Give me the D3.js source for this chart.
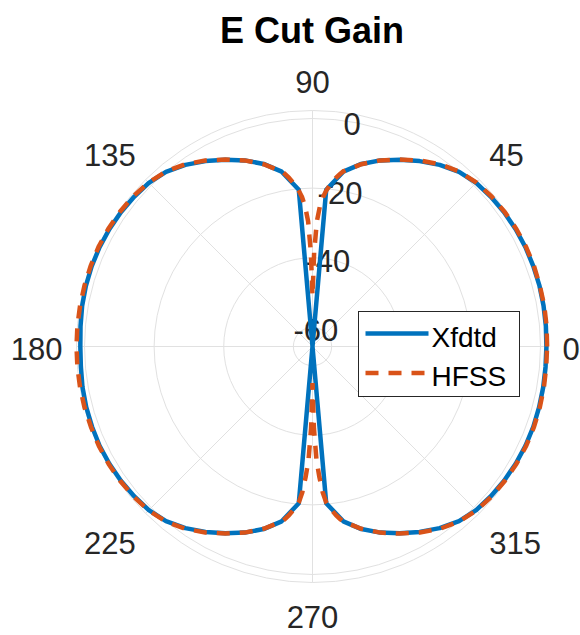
<!DOCTYPE html>
<html>
<head>
<meta charset="utf-8">
<script src="https://cdn.jsdelivr.net/npm/d3@7"></script>
<style>
  html, body { margin: 0; padding: 0; background: #fff; }
  svg { display: block; font-family: "Liberation Sans", Arial, sans-serif; }
</style>
</head>
<body>
<svg id="chart" width="580" height="635"></svg>
<script>
// E Cut Gain - polar plot of two simulated patterns (dB)

const chartTitle = 'E Cut Gain';
const thetaTicks = [0, 45, 90, 135, 180, 225, 270, 315];
const rTicks = [-60, -40, -20, 0];
const rLimits = [-65.5, 2.3];
const seriesNames = ['Xfdtd', 'HFSS'];

// Xfdtd, 5 degree steps
const xfdtdAngles = [0, 5, 10, 15, 20, 25, 30, 35, 40, 45, 50, 55, 60, 65, 70, 75, 80, 85,
  90, 95, 100, 105, 110, 115, 120, 125, 130, 135, 140, 145, 150, 155, 160, 165, 170, 175,
  180, 185, 190, 195, 200, 205, 210, 215, 220, 225, 230, 235, 240, 245, 250, 255, 260, 265,
  270, 275, 280, 285, 290, 295, 300, 305, 310, 315, 320, 325, 330, 335, 340, 345, 350, 355];
const xfdtdGain = [1.7, 1.8, 1.9, 2.0, 2.0, 2.0, 1.9, 1.7, 1.4, 1.0, 0.0, -1.8, -4.0, -6.3, -8.6, -11.2, -14.5, -20.3,
  -90, -20.3, -14.5, -11.2, -8.6, -6.3, -4.0, -1.8, 0.0, 1.0, 1.4, 1.7, 1.9, 2.0, 2.0, 1.9, 1.7, 1.4,
  1.2, 1.3, 1.6, 1.8, 1.9, 2.0, 1.9, 1.7, 1.4, 1.0, 0.0, -1.8, -4.0, -6.3, -8.6, -11.2, -14.5, -20.3,
  -90, -20.3, -14.5, -11.2, -8.6, -6.3, -4.0, -1.8, 0.0, 1.0, 1.4, 1.7, 1.9, 2.0, 2.0, 1.9, 1.8, 1.7];

// HFSS, finer steps around the nulls
const hfssAngles = [0, 5, 10, 15, 20, 25, 30, 35, 40, 45, 50, 55, 60, 65, 70, 75, 80,
  81, 82, 83, 84, 85, 86, 87, 88, 89, 90, 91, 92, 93, 94, 95, 96, 97, 98, 99,
  100, 105, 110, 115, 120, 125, 130, 135, 140, 145, 150, 155, 160, 165, 170, 175,
  180, 185, 190, 195, 200, 205, 210, 215, 220, 225, 230, 235, 240, 245, 250, 255, 260,
  261, 262, 263, 264, 265, 266, 267, 268, 269, 270, 271, 272, 273, 274, 275, 276, 277, 278, 279,
  280, 285, 290, 295, 300, 305, 310, 315, 320, 325, 330, 335, 340, 345, 350, 355];
const hfssGain = [1.9, 2.0, 2.1, 2.1, 2.2, 2.2, 2.1, 1.9, 1.6, 1.1, 0.1, -1.6, -3.8, -6.2, -8.6, -11.3, -14.4,
  -15.4, -16.5, -17.8, -19.1, -20.6, -22.5, -25.3, -29.5, -38.5, -51.0, -38.5, -29.5, -25.3, -22.5, -20.6, -19.1, -17.8, -16.5, -15.4,
  -14.4, -11.3, -8.6, -6.2, -3.8, -1.6, 0.1, 1.1, 1.7, 2.0, 2.2, 2.3, 2.3, 2.3, 2.3, 2.3,
  2.3, 2.3, 2.3, 2.3, 2.2, 2.2, 2.1, 1.9, 1.6, 1.1, 0.1, -1.6, -3.8, -6.2, -8.6, -11.3, -14.4,
  -15.4, -16.5, -17.8, -19.1, -20.6, -23.5, -28.0, -33.0, -42.0, -55.0, -42.0, -33.0, -28.0, -23.5, -20.6, -19.1, -17.8, -16.5, -15.4,
  -14.4, -11.3, -8.6, -6.2, -3.8, -1.6, 0.1, 1.1, 1.6, 1.9, 2.1, 2.2, 2.2, 2.1, 2.0, 1.9];

const colors = { xfdtd: '#0072BD', hfss: '#D95319' };

function renderPolar() {
  const svg = d3.select('#chart');
  const cx = 312.5;
  const cy = 346.5;
  const outerRadius = 236;
  const tickFont = 31;
  const capH = tickFont * 0.716;
  const gridColor = '#e1e1e1';
  const textColor = '#262626';

  svg.append('rect').attr('width', 580).attr('height', 635).attr('fill', '#fff');

  const rScale = d3.scaleLinear().domain(rLimits).range([0, outerRadius]).clamp(true);
  const toRad = d3.scaleLinear().domain([0, 360]).range([0, 2 * Math.PI]);
  const px = (deg, r) => cx + r * Math.cos(toRad(deg));
  const py = (deg, r) => cy - r * Math.sin(toRad(deg));

  const g = svg.append('g');

  // grid circles
  g.selectAll('.r-grid')
    .data(rTicks.concat([rLimits[1]]))
    .enter()
    .append('circle')
    .attr('cx', cx)
    .attr('cy', cy)
    .attr('r', d => rScale(d))
    .attr('fill', 'none')
    .attr('stroke', gridColor)
    .attr('stroke-width', 1);

  // spokes
  g.selectAll('.t-grid')
    .data(thetaTicks)
    .enter()
    .append('line')
    .attr('x1', cx)
    .attr('y1', cy)
    .attr('x2', d => px(d, outerRadius))
    .attr('y2', d => py(d, outerRadius))
    .attr('stroke', gridColor)
    .attr('stroke-width', 1);

  // theta tick labels
  const labelR = 250;
  g.selectAll('.t-label')
    .data(thetaTicks)
    .enter()
    .append('text')
    .attr('x', d => px(d, labelR))
    .attr('y', d => {
      const s = Math.sin(toRad(d));
      const ay = py(d, labelR);
      if (s > 0.1) return ay - 4;
      if (s < -0.1) return ay + capH + 9;
      return ay + capH / 2 + 2;
    })
    .attr('text-anchor', d => {
      const c = Math.cos(toRad(d));
      return c > 0.1 ? 'start' : (c < -0.1 ? 'end' : 'middle');
    })
    .attr('font-size', tickFont + 'px')
    .attr('fill', textColor)
    .text(d => d);

  // r tick labels along 80 degrees
  g.selectAll('.r-label')
    .data(rTicks)
    .enter()
    .append('text')
    .attr('x', d => px(80, rScale(d)))
    .attr('y', d => py(80, rScale(d)) + capH / 2 + 2)
    .attr('text-anchor', 'middle')
    .attr('font-size', tickFont + 'px')
    .attr('fill', textColor)
    .text(d => d);

  const line = d3.line()
    .x(d => px(d[0], rScale(d[1])))
    .y(d => py(d[0], rScale(d[1])))
    .curve(d3.curveLinearClosed);

  const xfdtd = xfdtdAngles.map((a, i) => [a, xfdtdGain[i]]);
  const hfss = hfssAngles.map((a, i) => [a, hfssGain[i]]);

  g.append('path')
    .datum(xfdtd)
    .attr('d', line)
    .attr('fill', 'none')
    .attr('stroke', colors.xfdtd)
    .attr('stroke-width', 4.5)
    .attr('stroke-linejoin', 'round');

  g.append('path')
    .datum(hfss)
    .attr('d', line)
    .attr('fill', 'none')
    .attr('stroke', colors.hfss)
    .attr('stroke-width', 4.5)
    .attr('stroke-dasharray', '13 10');

  // title
  svg.append('text')
    .attr('x', 312)
    .attr('y', 42.5)
    .attr('text-anchor', 'middle')
    .attr('font-size', '36px')
    .attr('font-weight', 'bold')
    .attr('fill', '#000')
    .text(chartTitle);

  // legend
  const legend = svg.append('g').attr('transform', 'translate(358.5,311.5)');
  legend.append('rect')
    .attr('width', 161)
    .attr('height', 85)
    .attr('fill', '#fff')
    .attr('stroke', '#262626')
    .attr('stroke-width', 1);

  const legendRows = [
    { name: seriesNames[0], color: colors.xfdtd, dash: null },
    { name: seriesNames[1], color: colors.hfss, dash: '13 10' }
  ];
  legendRows.forEach((row, i) => {
    const y = 22 + i * 39.5;
    legend.append('line')
      .attr('x1', 7)
      .attr('x2', 70)
      .attr('y1', y)
      .attr('y2', y)
      .attr('stroke', row.color)
      .attr('stroke-width', 4.5)
      .attr('stroke-dasharray', row.dash);
    legend.append('text')
      .attr('x', 73)
      .attr('y', y + 13)
      .attr('font-size', '28px')
      .attr('fill', '#000')
      .text(row.name);
  });
}

renderPolar();
</script>
</body>
</html>
